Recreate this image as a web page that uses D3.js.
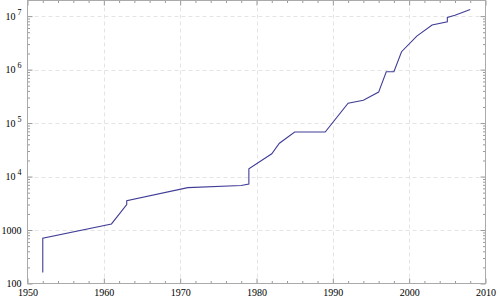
<!DOCTYPE html>
<html>
<head>
<meta charset="utf-8">
<script src="https://cdn.jsdelivr.net/npm/d3@7"></script>
<style>
  body { margin: 0; background: #fff; }
  svg { display: block; }
  .tick text { font-family: "Liberation Serif", "Times New Roman", serif; font-size: 10px; fill: #000; }
</style>
</head>
<body>
<div id="chart"></div>
<script>
// data
const years = [1952, 1952, 1961, 1963, 1963, 1971, 1978, 1979, 1979, 1982, 1983, 1985, 1989,
               1992, 1994, 1996, 1997, 1998, 1999, 2001, 2003, 2005, 2005, 2006, 2008]
const values = [160, 700, 1300, 3000, 3550, 6200, 6800, 7250, 14000, 26600, 42000, 68000, 68000,
                235000, 267000, 380000, 910000, 910000, 2160000, 4240000, 6800000, 7850000, 9450000, 10400000, 13300000]

const xTicks = [1950, 1960, 1970, 1980, 1990, 2000, 2010]
const yTicks = [100, 1000, 1e4, 1e5, 1e6, 1e7]

const width = 500
const height = 306
const mLeft = 27.5, mRight = 485.5, mTop = 0.5, mBottom = 283.5

const data = years.map((y, i) => [y, values[i]])

const x = d3.scaleLinear().domain([1950, 2010]).range([mLeft, mRight])
const y = d3.scaleLog().domain([100, 1.96e7]).range([mBottom, mTop])

const svg = d3.select('#chart').append('svg')
    .attr('width', width)
    .attr('height', height)

// minor ticks
const xMinor = d3.range(1950, 2011, 2).filter(v => v % 10 !== 0)
const yMinor = []
for (let d = 100; d < 2e7; d *= 10) {
    for (let k = 2; k <= 9; k++) if (d * k <= 1.96e7) yMinor.push(d * k)
}

// grid
const grid = svg.append('g').attr('stroke', '#e4e4e4').attr('stroke-dasharray', '4,3')
grid.selectAll('.gx')
    .data(xTicks.slice(1, -1))
    .enter().append('line')
    .attr('x1', d => Math.round(x(d)) + 0.5).attr('x2', d => Math.round(x(d)) + 0.5)
    .attr('y1', mTop).attr('y2', mBottom)
grid.selectAll('.gy')
    .data(yTicks.slice(1))
    .enter().append('line')
    .attr('x1', mLeft).attr('x2', mRight)
    .attr('y1', d => Math.round(y(d)) + 0.5).attr('y2', d => Math.round(y(d)) + 0.5)

function styleAxis(g) {
    g.select('.domain').remove()
    g.selectAll('.tick line').attr('stroke', '#999')
}

// bottom axis with labels
svg.append('g')
    .attr('transform', `translate(0,${mBottom})`)
    .call(d3.axisBottom(x).tickValues(xTicks).tickSize(-5).tickPadding(5).tickFormat(d3.format('d')))
    .call(styleAxis)
svg.append('g')
    .attr('transform', `translate(0,${mBottom})`)
    .call(d3.axisBottom(x).tickValues(xMinor).tickSize(-2.5).tickFormat(''))
    .call(styleAxis)

// top ticks
svg.append('g')
    .attr('transform', `translate(0,${mTop})`)
    .call(d3.axisTop(x).tickValues(xTicks).tickSize(-5).tickFormat(''))
    .call(styleAxis)
svg.append('g')
    .attr('transform', `translate(0,${mTop})`)
    .call(d3.axisTop(x).tickValues(xMinor).tickSize(-2.5).tickFormat(''))
    .call(styleAxis)

// left axis with labels
const yAx = svg.append('g')
    .attr('transform', `translate(${mLeft},0)`)
    .call(d3.axisLeft(y).tickValues(yTicks).tickSize(-5).tickPadding(6).tickFormat(''))
    .call(styleAxis)
svg.append('g')
    .attr('transform', `translate(${mLeft},0)`)
    .call(d3.axisLeft(y).tickValues(yMinor).tickSize(-2.5).tickFormat(''))
    .call(styleAxis)

yAx.selectAll('.tick text').each(function(d) {
    const t = d3.select(this)
    const e = Math.round(Math.log10(d))
    if (e <= 3) {
        t.text(d3.format('d')(d))
    } else {
        t.attr('x', -6)
        t.append('tspan').text('10')
        t.append('tspan').attr('dx', 2).attr('dy', -5).style('font-size', '8px').text(e)
    }
})

// right ticks
svg.append('g')
    .attr('transform', `translate(${mRight},0)`)
    .call(d3.axisRight(y).tickValues(yTicks).tickSize(-5).tickFormat(''))
    .call(styleAxis)
svg.append('g')
    .attr('transform', `translate(${mRight},0)`)
    .call(d3.axisRight(y).tickValues(yMinor).tickSize(-2.5).tickFormat(''))
    .call(styleAxis)

// frame
svg.append('rect')
    .attr('x', mLeft).attr('y', mTop)
    .attr('width', mRight - mLeft).attr('height', mBottom - mTop)
    .attr('fill', 'none')
    .attr('stroke', '#aaa')

// the line
const line = d3.line().x(d => x(d[0])).y(d => y(d[1]))
svg.append('path')
    .datum(data)
    .attr('d', line)
    .attr('fill', 'none')
    .attr('stroke', '#403d96')
    .attr('stroke-width', 1.1)
</script>
</body>
</html>
